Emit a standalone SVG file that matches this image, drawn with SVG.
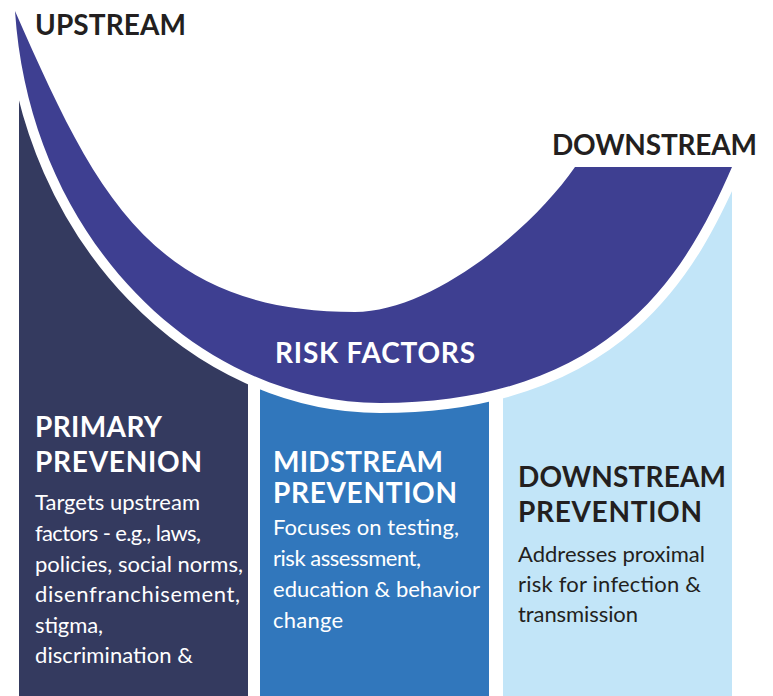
<svg xmlns="http://www.w3.org/2000/svg" width="773" height="696" viewBox="0 0 773 696">
  <style>
    .head { font-family: Lato, "Open Sans", "Liberation Sans", sans-serif; font-weight: 700; font-size: 28px; }
    .body { font-family: Lato, "Open Sans", "Liberation Sans", sans-serif; font-weight: 400; font-size: 22px; }
    .dark { fill: #231f20; }
    .white { fill: #ffffff; }
  </style>
  <rect x="0" y="0" width="773" height="696" fill="#ffffff"/>

  <g id="col-primary">
    <rect x="19" y="90" width="229" height="606" fill="#343a5f"/>
  </g>
  <g id="col-midstream">
    <rect x="260" y="370" width="229" height="326" fill="#3177bc"/>
  </g>
  <g id="col-downstream">
    <rect x="503" y="170" width="229" height="526" fill="#c2e5f8"/>
  </g>

  <g id="risk-factors-arc">
    <path d="M15,11 C30,240 200,403 380,403 C620,403 690,262 732,167 L732,0 L15,0 Z" fill="#ffffff" stroke="#ffffff" stroke-width="20" stroke-linejoin="round"/>
    <path d="M15,11 C30,240 200,403 380,403 C620,403 690,262 732,167 L575,167 C529,233 430,312 355,312 C150,312 94,190 15,11 Z" fill="#3e3f91"/>
    <text class="head white" x="275" y="363" font-size="29" font-weight="600" textLength="200">RISK FACTORS</text>
  </g>

  <g id="label-upstream">
    <text class="head dark" x="35" y="35" textLength="151">UPSTREAM</text>
  </g>
  <g id="label-downstream">
    <text class="head dark" x="552" y="155" textLength="205">DOWNSTREAM</text>
  </g>

  <g id="text-primary">
    <text class="head white" x="35" y="437" textLength="127">PRIMARY</text>
    <text class="head white" x="35" y="472" textLength="167">PREVENION</text>
    <text class="body white" x="35" y="510" textLength="165">Targets upstream</text>
    <text class="body white" x="35" y="541" textLength="166">factors - e.g., laws,</text>
    <text class="body white" x="35" y="572" textLength="208">policies, social norms,</text>
    <text class="body white" x="35" y="602" textLength="205">disenfranchisement,</text>
    <text class="body white" x="35" y="633" textLength="68">stigma,</text>
    <text class="body white" x="35" y="663" textLength="158">discrimination &amp;</text>
  </g>

  <g id="text-midstream">
    <text class="head white" x="273" y="472" textLength="170">MIDSTREAM</text>
    <text class="head white" x="273" y="503" textLength="184">PREVENTION</text>
    <text class="body white" x="273" y="535" textLength="186">Focuses on testing,</text>
    <text class="body white" x="273" y="566" textLength="148">risk assessment,</text>
    <text class="body white" x="273" y="597" textLength="207">education &amp; behavior</text>
    <text class="body white" x="273" y="628" textLength="70">change</text>
  </g>

  <g id="text-downstream">
    <text class="head dark" x="518" y="487" textLength="208">DOWNSTREAM</text>
    <text class="head dark" x="518" y="522" textLength="184">PREVENTION</text>
    <text class="body dark" x="518" y="562" textLength="187">Addresses proximal</text>
    <text class="body dark" x="518" y="592" textLength="183">risk for infection &amp;</text>
    <text class="body dark" x="518" y="622" textLength="120">transmission</text>
  </g>
</svg>
